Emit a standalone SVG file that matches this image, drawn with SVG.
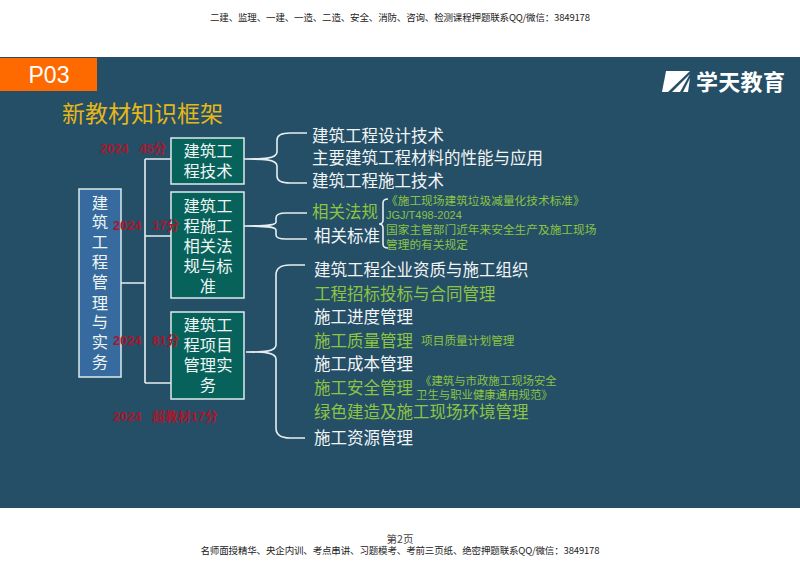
<svg xmlns="http://www.w3.org/2000/svg" width="800" height="566" viewBox="0 0 800 566">
<style>
text{font-family:"Noto Sans CJK SC","Liberation Sans",sans-serif}
.w{fill:#f2f5f5;font-size:16.5px}
.g{fill:#8cc444;font-size:16.5px}
.s{fill:#8cc444;font-size:11.7px}
.t{fill:#8cc444;font-size:11.4px}
.b{fill:#eef6f4;font-size:16.3px;text-anchor:middle}
.r{fill:#a8182c;font-size:12.8px;font-weight:700;font-family:"Liberation Sans","Noto Sans CJK SC",sans-serif}
.box{fill:#07625b;stroke:#dcebeb;stroke-width:1.5}
.c{fill:none;stroke:#e6eef0;stroke-width:1.6}
.k{fill:#222;font-size:9.5px;text-anchor:middle}
</style>
<rect width="800" height="566" fill="#fff"/>
<text class="k" x="400" y="21" textLength="380">二建、监理、一建、一造、二造、安全、消防、咨询、检测课程押题联系QQ/微信：3849178</text>
<rect x="0" y="57" width="800" height="451" fill="#254e67"/>
<g id="badge"><rect x="0" y="58" width="97" height="33" fill="#ff6a00"/><text x="49" y="83" font-size="23" fill="#fff" text-anchor="middle" style="font-family:'Liberation Sans',sans-serif">P03</text></g>
<text x="62" y="122" font-size="23" fill="#e6b717">新教材知识框架</text>
<g id="logo"><polygon points="666,71 690,71 668,92 662,92" fill="#fff"/><polygon points="672,92 690,74 680,92" fill="#fff"/><polygon points="683,92 690,78 688,92" fill="#fff"/><text x="696" y="90" font-size="22" font-weight="700" fill="#fff" letter-spacing=".3">学天教育</text></g>
<g id="connectors">
<path class="c" d="M121,283H145M145,159V383M145,159H171M145,236H171M145,383H171"/>
<path class="c" d="M244,159C262,159 277,159 277,152V140Q277,133 290,133H307M244,159C262,159 277,159 277,166V176Q277,183 290,183H307"/>
<path class="c" d="M244,226C262,226 276,226 276,222V218Q276,213 286,213H307M244,226C262,226 276,226 276,230V235Q276,239 286,239H307"/>
<path class="c" d="M246,352C262,352 276,352 276,345V275Q276,265 290,265H305M246,352C262,352 276,352 276,359V428Q276,438 290,438H305"/>
<path class="c" stroke-width="1.2" d="M388,199Q383,199 383,203V220Q383,224 379,224Q383,224 383,228V244Q383,248 388,248"/>
</g>
<g id="root"><rect x="79" y="189" width="42" height="188" fill="#376a9e" stroke="#dcebeb" stroke-width="1.5"/>
<text class="b" x="100" y="209">建</text><text class="b" x="100" y="228">筑</text><text class="b" x="100" y="248">工</text><text class="b" x="100" y="268">程</text><text class="b" x="100" y="288">管</text><text class="b" x="100" y="309">理</text><text class="b" x="100" y="328">与</text><text class="b" x="100" y="348">实</text><text class="b" x="100" y="368">务</text></g>
<g id="box1"><rect class="box" x="171" y="138" width="73" height="46"/><text class="b" x="208" y="157">建筑工</text><text class="b" x="208" y="177">程技术</text></g>
<g id="box2"><rect class="box" x="171" y="192" width="73" height="106"/><text class="b" x="208" y="212">建筑工</text><text class="b" x="208" y="232">程施工</text><text class="b" x="208" y="252">相关法</text><text class="b" x="208" y="272">规与标</text><text class="b" x="208" y="292">准</text></g>
<g id="box3"><rect class="box" x="171" y="312" width="73" height="87"/><text class="b" x="208" y="331">建筑工</text><text class="b" x="208" y="351">程项目</text><text class="b" x="208" y="371">管理实</text><text class="b" x="208" y="391">务</text></g>
<g id="scores"><text class="r" x="100" y="153" xml:space="preserve">2024   45分</text><text class="r" x="113" y="230" xml:space="preserve">2024   17分</text><text class="r" x="113" y="345" xml:space="preserve">2024   81分</text><text class="r" x="113" y="421" xml:space="preserve">2024   超教材17分</text></g>
<g id="tech"><text class="w" x="312" y="142">建筑工程设计技术</text><text class="w" x="312" y="164">主要建筑工程材料的性能与应用</text><text class="w" x="312" y="187">建筑工程施工技术</text></g>
<g id="law"><text class="g" x="312" y="218">相关法规</text><text class="w" x="314" y="242">相关标准</text>
<text class="s" x="386" y="205">《施工现场建筑垃圾减量化技术标准》</text><text class="s" x="386" y="219" style="font-family:'Liberation Sans',sans-serif;font-size:11px">JGJ/T498-2024</text><text class="s" x="386" y="234">国家主管部门近年来安全生产及施工现场</text><text class="s" x="386" y="249">管理的有关规定</text></g>
<g id="project"><text class="w" x="314" y="276">建筑工程企业资质与施工组织</text><text class="g" x="314" y="300">工程招标投标与合同管理</text><text class="w" x="314" y="323">施工进度管理</text><text class="g" x="314" y="347">施工质量管理</text><text class="s" x="421" y="345">项目质量计划管理</text><text class="w" x="314" y="370">施工成本管理</text><text class="g" x="314" y="394">施工安全管理</text><text class="t" x="420" y="385">《建筑与市政施工现场安全</text><text class="t" x="416" y="399">卫生与职业健康通用规范》</text><text class="g" x="314" y="418">绿色建造及施工现场环境管理</text><text class="w" x="314" y="444">施工资源管理</text></g>
<text x="400" y="543" font-size="10.5" fill="#444" text-anchor="middle" style="font-family:'Noto Sans CJK SC',serif">第2页</text>
<text class="k" x="400" y="554" textLength="399">名师面授精华、央企内训、考点串讲、习题模考、考前三页纸、绝密押题联系QQ/微信：3849178</text>
</svg>
